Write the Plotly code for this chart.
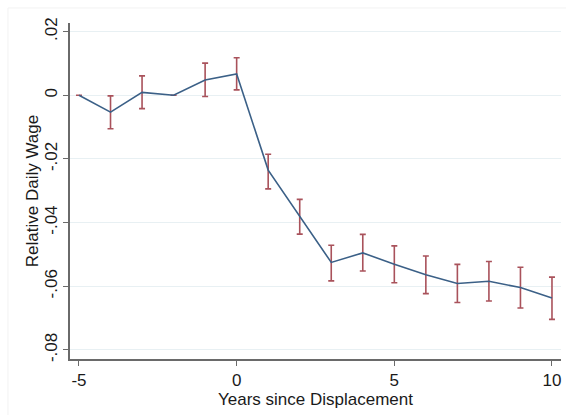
import plotly.graph_objects as go

# Event-study estimates: years relative to job displacement
years = [-5, -4, -3, -2, -1, 0, 1, 2, 3, 4, 5, 6, 7, 8, 9, 10]
coef = [0.0, -0.0053, 0.0009, 0.0, 0.0048, 0.0067, -0.0235, -0.0382,
        -0.0525, -0.0495, -0.0531, -0.0564, -0.0591, -0.0584, -0.0604, -0.0637]
ci_upper = [0.0, -0.0002, 0.0061, 0.0, 0.0101, 0.0118, -0.0185, -0.0327,
            -0.0471, -0.0437, -0.0473, -0.0505, -0.0531, -0.0522, -0.0540, -0.0571]
ci_lower = [0.0, -0.0105, -0.0042, 0.0, -0.0004, 0.0017, -0.0294, -0.0436,
            -0.0583, -0.0552, -0.0589, -0.0623, -0.0651, -0.0646, -0.0668, -0.0704]

y_tickvals = [0.02, 0.0, -0.02, -0.04, -0.06, -0.08]
y_ticktext = [".02", "0", "-.02", "-.04", "-.06", "-.08"]
x_tickvals = [-5, 0, 5, 10]
x_ticktext = ["-5", "0", "5", "10"]

err_plus = [u - c for u, c in zip(ci_upper, coef)]
err_minus = [c - l for c, l in zip(coef, ci_lower)]

LINE_COLOR = "#3b6087"
CI_COLOR = "#a9525b"
AXIS_COLOR = "#6a6a6a"
GRID_COLOR = "#e8f0f3"
FONT = "Liberation Sans, Arial, sans-serif"
FS = 17

fig = go.Figure()

# Confidence-interval caps (drawn first so the estimate line sits on top)
fig.add_trace(go.Scatter(
    x=years, y=coef, mode="markers",
    marker=dict(size=0.1, color="rgba(0,0,0,0)"),
    error_y=dict(type="data", symmetric=False, array=err_plus,
                 arrayminus=err_minus, color=CI_COLOR, thickness=1.6, width=3),
    hoverinfo="skip", showlegend=False,
))

# Point estimates
fig.add_trace(go.Scatter(
    x=years, y=coef, mode="lines",
    line=dict(color=LINE_COLOR, width=1.6),
    showlegend=False,
))

fig.update_layout(
    width=566, height=415,
    margin=dict(l=70, r=5, t=23, b=56),
    paper_bgcolor="white", plot_bgcolor="white",
    font=dict(family=FONT, size=FS, color="#1a1a1a"),
    showlegend=False,
    shapes=[
        # faint outer frame of the graph region
        dict(type="line", xref="paper", yref="paper",
             x0=-0.1263, x1=1.2, y0=1.0447, y1=1.0447,
             line=dict(color="#f2f2f2", width=1)),
        dict(type="line", xref="paper", yref="paper",
             x0=-0.1263, x1=-0.1263, y0=-0.3, y1=1.0447,
             line=dict(color="#f2f2f2", width=1)),
    ],
)

fig.update_xaxes(
    range=[-5.285, 10.286],
    tickvals=x_tickvals, ticktext=x_ticktext,
    ticks="outside", ticklen=5, tickwidth=1.3, tickcolor=AXIS_COLOR,
    showline=True, linecolor=AXIS_COLOR, linewidth=1.5,
    showgrid=False, zeroline=False,
    tickfont=dict(size=FS),
    title=dict(text="Years since Displacement", font=dict(size=FS), standoff=2),
)

fig.update_yaxes(
    range=[-0.08283, 0.0227],
    tickvals=y_tickvals, ticktext=y_ticktext, tickangle=-90,
    ticks="outside", ticklen=5, tickwidth=1.3, tickcolor=AXIS_COLOR,
    ticklabelstandoff=-1,
    showline=True, linecolor=AXIS_COLOR, linewidth=1.5,
    showgrid=True, gridcolor=GRID_COLOR, gridwidth=1.2,
    zeroline=False,
    tickfont=dict(size=FS),
    title=dict(text="Relative Daily Wage", font=dict(size=FS), standoff=0),
)

fig.write_html("out.html")
